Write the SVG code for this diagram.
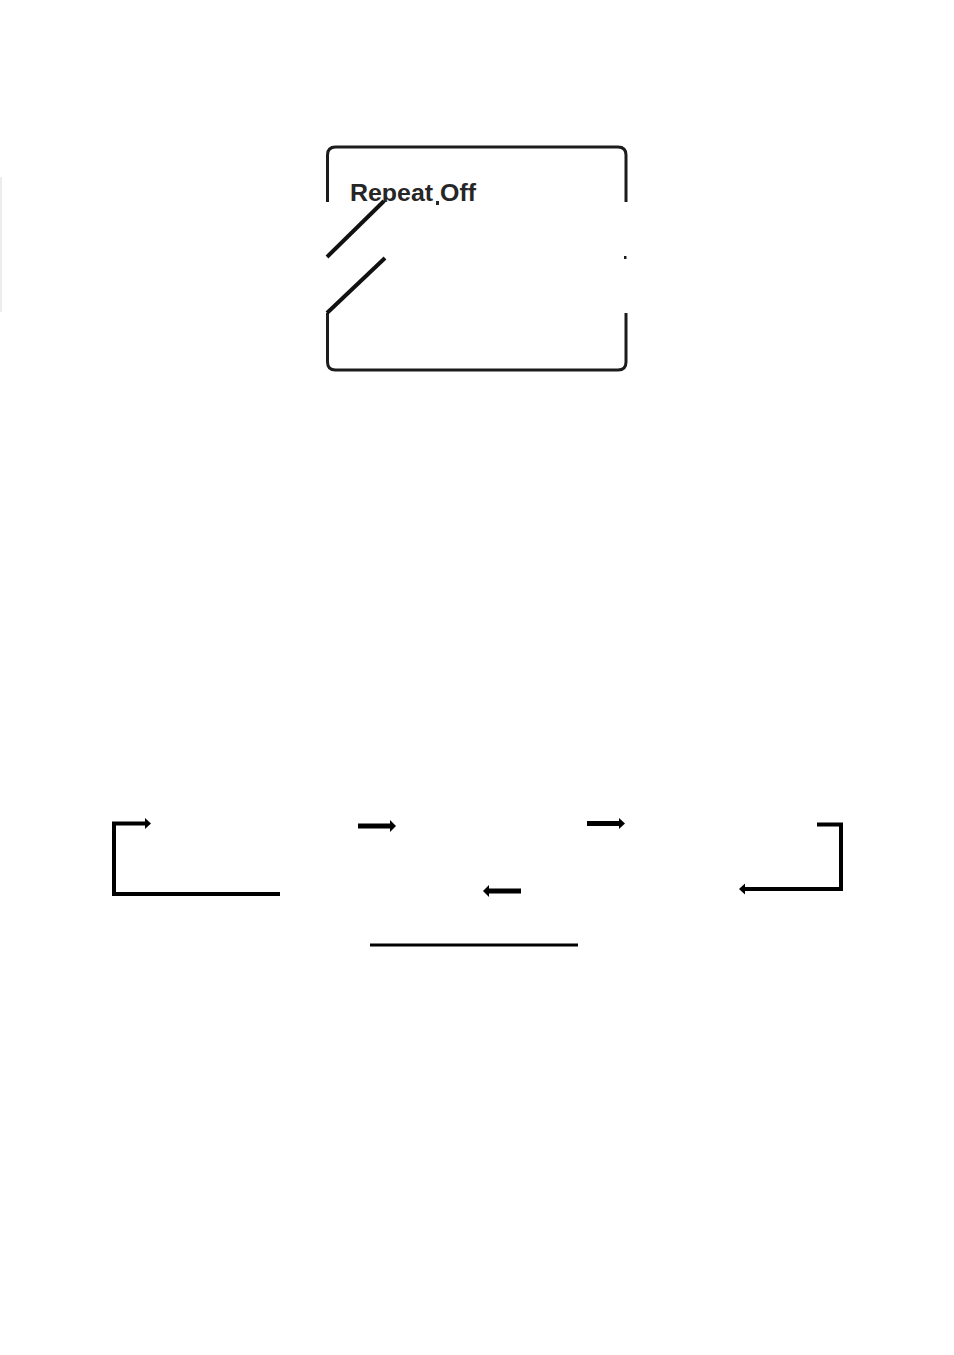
<svg xmlns="http://www.w3.org/2000/svg" width="954" height="1355" viewBox="0 0 954 1355">
<style>
.frame{fill:none;stroke:#1c1c1c;stroke-width:3;stroke-linecap:butt}
.diag{fill:none;stroke:#111;stroke-width:4;stroke-linecap:butt}
.lbl{font-family:"Liberation Sans","DejaVu Sans",sans-serif;font-weight:bold;font-size:23px;fill:#262626}
.ln{fill:none;stroke:#000;stroke-linecap:butt;stroke-linejoin:miter}
.hd{fill:#000}
</style>
<rect width="954" height="1355" fill="#fff"/>
<line x1="1" y1="177" x2="1" y2="312" stroke="#ececec" stroke-width="2"/>
<g id="display">
  <path class="frame" d="M327.5,202 V155 Q327.5,147 335.5,147 H618 Q626,147 626,155 V202"/>
  <path class="frame" d="M327.5,313 V362 Q327.5,370 335.5,370 H618 Q626,370 626,362 V313"/>
  <text class="lbl" x="350" y="201" textLength="126" lengthAdjust="spacingAndGlyphs">Repeat  Off</text>
  <rect x="340" y="202" width="280" height="56" fill="#fff"/>
  <rect x="436" y="201" width="3" height="4" fill="#262626"/>
  <path class="diag" d="M327,257 L384,201"/>
  <path class="diag" d="M327,313 L385,258"/>
  <rect x="624" y="256" width="2.5" height="3" fill="#1c1c1c"/>
</g>
<g id="connectors">
  <path class="ln" stroke-width="4" d="M280,894 H114 V823.5 H146"/>
  <polygon class="hd" points="145,818 151,823.5 145,829"/>
  <path class="ln" stroke-width="5" d="M358,826 H391"/>
  <polygon class="hd" points="390,820 396,826 390,832"/>
  <path class="ln" stroke-width="5" d="M587,823.5 H620"/>
  <polygon class="hd" points="619,818 625,823.5 619,829"/>
  <path class="ln" stroke-width="4" d="M817,824.5 H841 V889 H744"/>
  <polygon class="hd" points="745,883.5 739,889 745,894.5"/>
  <path class="ln" stroke-width="5" d="M521,891 H488"/>
  <polygon class="hd" points="489,885 483,891 489,897"/>
  <line class="ln" stroke-width="3" x1="370" y1="945" x2="578" y2="945"/>
</g>
</svg>
